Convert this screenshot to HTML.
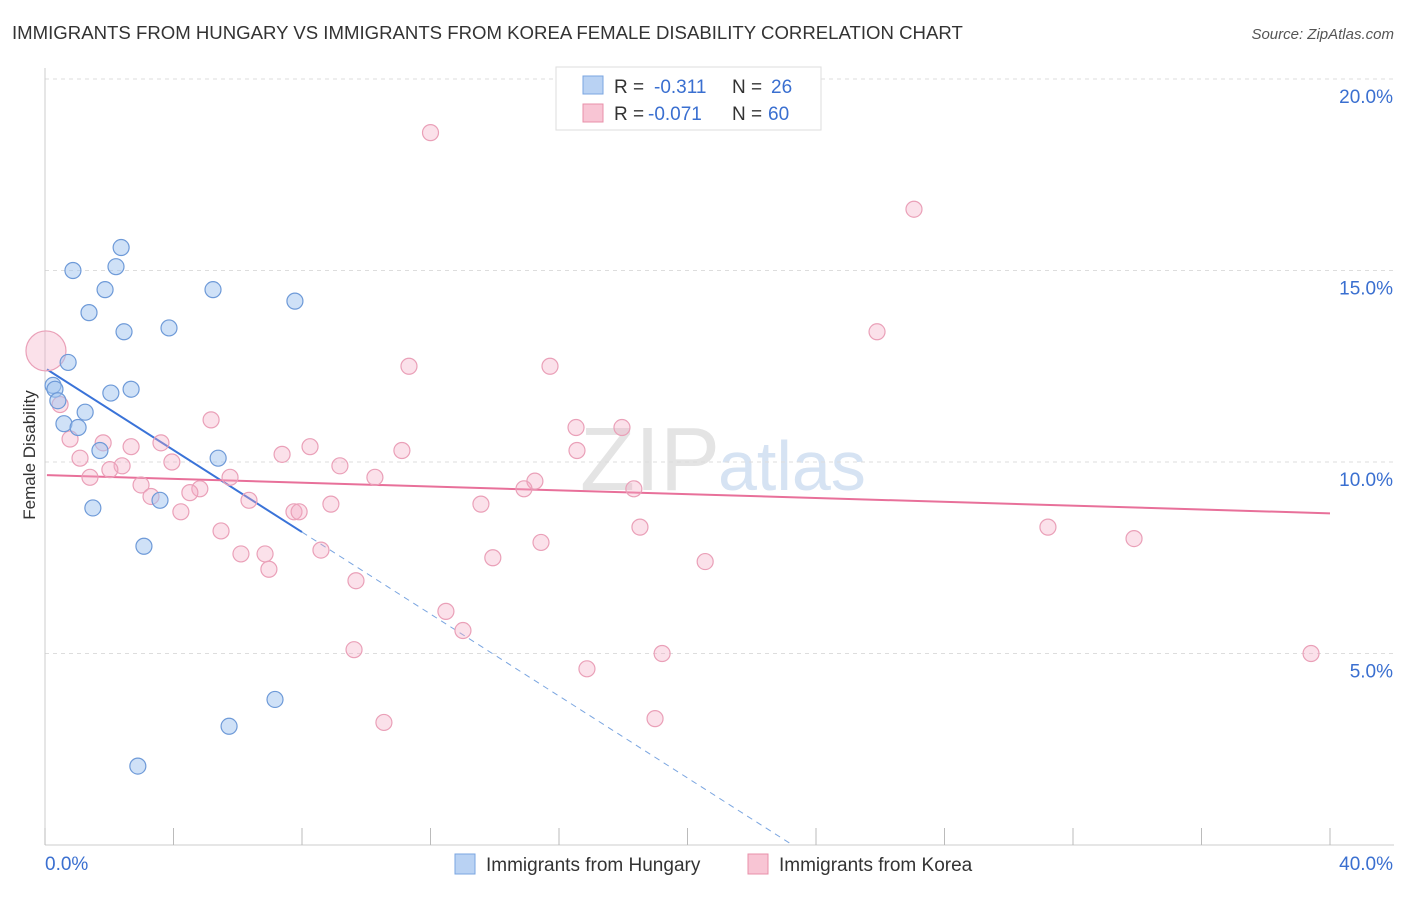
<!DOCTYPE html>
<html><head><meta charset="utf-8"><style>
body{margin:0;background:#fff;font-family:"Liberation Sans",sans-serif;}
svg text{font-family:"Liberation Sans",sans-serif;}
</style></head><body>
<svg id="chart" width="1406" height="892" xmlns="http://www.w3.org/2000/svg">
<text x="12" y="39" font-size="18.6" fill="#333">IMMIGRANTS FROM HUNGARY VS IMMIGRANTS FROM KOREA FEMALE DISABILITY CORRELATION CHART</text>
<text x="1394" y="39" font-size="15" fill="#555" font-style="italic" text-anchor="end">Source: ZipAtlas.com</text>
<text x="720" y="490" font-size="90" fill="#e4e4e4" text-anchor="end" font-family="Liberation Serif">ZIP</text>
<text x="718" y="490" font-size="70" fill="#d6e3f3">atlas</text>
<g id="grid"></g><g id="axes"></g><g id="lines"></g><g id="pts"></g>
<text x="35" y="455" font-size="17" fill="#333" transform="rotate(-90 35 455)" text-anchor="middle">Female Disability</text>
<g>
<rect x="556" y="67" width="265" height="63" fill="#fff" stroke="#ddd"/>
<rect x="583" y="76" width="20" height="18" fill="#b9d2f3" stroke="#7aa5e0"/>
<text x="614" y="93" font-size="19" fill="#333">R =</text>
<text x="654" y="93" font-size="19" fill="#3a6fd0">-0.311</text>
<text x="732" y="93" font-size="19" fill="#333">N =</text>
<text x="771" y="93" font-size="19" fill="#3a6fd0">26</text>
<rect x="583" y="104" width="20" height="18" fill="#f8c5d4" stroke="#e890aa"/>
<text x="614" y="120" font-size="19" fill="#333">R =</text>
<text x="648" y="120" font-size="19" fill="#3a6fd0">-0.071</text>
<text x="732" y="120" font-size="19" fill="#333">N =</text>
<text x="768" y="120" font-size="19" fill="#3a6fd0">60</text>
</g>
<g>
<rect x="455" y="854" width="20" height="20" fill="#b9d2f3" stroke="#7aa5e0"/>
<text x="486" y="871" font-size="19" fill="#333">Immigrants from Hungary</text>
<rect x="748" y="854" width="20" height="20" fill="#f8c5d4" stroke="#e890aa"/>
<text x="779" y="871" font-size="19" fill="#333">Immigrants from Korea</text>
</g>
</svg>
<script>
const hungaryX=[2.37,0.87,2.21,1.87,5.23,7.78,1.37,2.46,3.86,0.72,0.25,0.31,2.05,2.68,0.40,1.25,0.59,1.03,1.71,5.39,3.58,1.49,3.08,7.16,5.73,2.89];
const hungaryY=[15.6,15.0,15.1,14.5,14.5,14.2,13.9,13.4,13.5,12.6,12.0,11.9,11.8,11.9,11.6,11.3,11.0,10.9,10.3,10.1,9.0,8.8,7.8,3.8,3.1,2.06];
const koreaX=[12.0,27.05,25.9,0.03,11.33,15.72,0.47,5.17,0.78,1.81,3.61,2.68,8.25,11.11,7.38,1.09,3.95,9.18,2.40,2.02,16.53,17.96,16.56,1.40,10.27,5.76,15.25,14.91,2.99,4.82,18.33,3.30,4.51,6.35,13.57,8.90,7.75,7.91,4.23,5.48,18.52,31.22,33.9,15.44,8.59,6.10,6.85,13.94,20.55,6.97,9.68,12.48,13.01,9.62,19.21,39.41,16.87,10.55,18.99];
const koreaY=[18.6,16.6,13.4,12.9,12.5,12.5,11.5,11.1,10.6,10.5,10.5,10.4,10.4,10.3,10.2,10.1,10.0,9.9,9.9,9.8,10.9,10.9,10.3,9.6,9.6,9.6,9.5,9.3,9.4,9.3,9.3,9.1,9.2,9.0,8.9,8.9,8.7,8.7,8.7,8.2,8.3,8.3,8.0,7.9,7.7,7.6,7.6,7.5,7.4,7.2,6.9,6.1,5.6,5.1,5.0,5.0,4.6,3.2,3.3];
const yTicks=[5,10,15,20];
const xTicks=[0,4,8,12,16,20,24,28,32,36,40];
const hungaryTrend=[12.45,-0.535];
const koreaTrend=[9.66,-0.025];
const NS='http://www.w3.org/2000/svg';
const X=v=>45+v*32.125, Y=v=>845-v*38.3;
function mk(tag,at,parent){const e=document.createElementNS(NS,tag);for(const k in at)e.setAttribute(k,at[k]);document.getElementById(parent).appendChild(e);return e;}
yTicks.forEach(t=>{
 const g=mk('line',{x1:45,x2:1394,y1:Y(t),y2:Y(t),stroke:'#ddd','stroke-dasharray':'4,4'},'grid');
 
 
 const l=mk('text',{x:1393,y:Y(t)+24,'font-size':19,fill:'#3a6fd0','text-anchor':'end'},'grid');
 l.textContent=t.toFixed(1)+'%';
 
 
});
const ax=mk('line',{x1:45,x2:1394,y1:845,y2:845,stroke:'#ccc'},'axes');


const ay=mk('line',{x1:45,x2:45,y1:68,y2:845,stroke:'#ccc'},'axes');


xTicks.forEach(t=>{
 const k=mk('line',{x1:X(t),x2:X(t),y1:828,y2:845,stroke:'#bbb'},'axes');
 
 
});
[[0,'start',45],[40,'end',1393]].forEach(([t,a,x])=>{
 const l=mk('text',{x:x,y:870,'font-size':19,fill:'#3a6fd0','text-anchor':a},'axes');
 l.textContent=t.toFixed(1)+'%';
 
 
});
const hy=v=>hungaryTrend[0]+hungaryTrend[1]*v;
let t1=mk('line',{x1:X(0.06),y1:Y(hy(0.06)),x2:X(8.0),y2:Y(hy(8.0)),stroke:'#3a73d8','stroke-width':2},'lines');


const xEnd=-hungaryTrend[0]/hungaryTrend[1];
let t2=mk('line',{x1:X(8.0),y1:Y(hy(8.0)),x2:X(xEnd),y2:Y(0),stroke:'#7aa5e0','stroke-width':1,'stroke-dasharray':'6,5'},'lines');


const ky=v=>koreaTrend[0]+koreaTrend[1]*v;
let t3=mk('line',{x1:X(0.06),y1:Y(ky(0.06)),x2:X(40),y2:Y(ky(40)),stroke:'#e8709a','stroke-width':2},'lines');


koreaX.forEach((x,i)=>{
 const big=i===3;
 const c=mk('circle',{cx:X(x),cy:Y(koreaY[i]),r:big?20:8,fill:'rgba(244,170,195,0.35)',stroke:'#eaa0b8','stroke-width':1.2},'pts');
 
 
});
hungaryX.forEach((x,i)=>{
 const c=mk('circle',{cx:X(x),cy:Y(hungaryY[i]),r:8,fill:'rgba(160,195,240,0.5)',stroke:'#6e9ad8','stroke-width':1.2},'pts');
 
 
});
</script>
</body></html>
